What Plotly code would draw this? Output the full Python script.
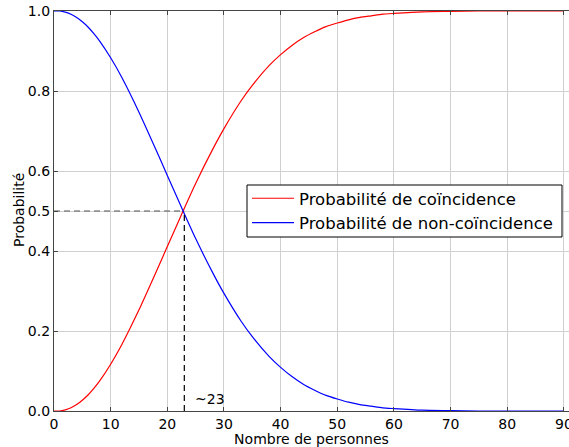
import plotly.graph_objects as go

# Number of persons
persons = [0, 1, 2, 3, 4, 5, 6, 7, 8, 10, 12, 15, 18, 20, 23, 25, 28, 30, 33, 35, 38, 40,
           42, 44, 46, 48, 50, 52, 54, 56, 58, 60, 65, 70, 75, 80, 85, 90]
# Probability of coincidence
p_coincidence = [0.0, 0.0, 0.003, 0.008, 0.016, 0.027, 0.040, 0.056, 0.074, 0.117, 0.167,
                 0.253, 0.347, 0.411, 0.507, 0.569, 0.654, 0.706, 0.775, 0.814, 0.864, 0.891,
                 0.914, 0.933, 0.948, 0.961, 0.970, 0.978, 0.984, 0.988, 0.992, 0.994,
                 0.998, 0.999, 1.0, 1.0, 1.0, 1.0]
# Probability of non-coincidence
p_non_coincidence = [1.0, 1.0, 0.997, 0.992, 0.984, 0.973, 0.960, 0.944, 0.926, 0.883, 0.833,
                     0.747, 0.653, 0.589, 0.493, 0.431, 0.346, 0.294, 0.225, 0.186, 0.136, 0.109,
                     0.086, 0.067, 0.052, 0.039, 0.030, 0.022, 0.016, 0.012, 0.008, 0.006,
                     0.002, 0.001, 0.0, 0.0, 0.0, 0.0]

x_ticks = [0, 10, 20, 30, 40, 50, 60, 70, 80, 90]
y_ticks = [0.0, 0.2, 0.4, 0.5, 0.6, 0.8, 1.0]
y_ticktext = ["0.0", "0.2", "0.4", "0.5", "0.6", "0.8", "1.0"]
threshold_persons = 23
threshold_prob = 0.5

font_family = "DejaVu Sans, sans-serif"
W, H = 569, 447
ML, MR, MT, MB = 54, 0, 11, 36
PW, PH = W - ML - MR, H - MT - MB


def px_x(p):
    return (p - ML) / PW


def px_y(p):
    return (H - MB - p) / PH


fig = go.Figure()
fig.add_trace(go.Scatter(x=persons, y=p_coincidence, mode="lines",
                         line=dict(color="#ff0000", width=1.2, shape="spline", smoothing=0.6),
                         name="Probabilité de coïncidence"))
fig.add_trace(go.Scatter(x=persons, y=p_non_coincidence, mode="lines",
                         line=dict(color="#0000ff", width=1.2, shape="spline", smoothing=0.6),
                         name="Probabilité de non-coïncidence"))

# Dashed guide lines
fig.add_trace(go.Scatter(x=[0, threshold_persons], y=[threshold_prob, threshold_prob], mode="lines",
                         line=dict(color="#555555", width=1.2, dash="6px,4px"),
                         showlegend=False, hoverinfo="skip"))
fig.add_trace(go.Scatter(x=[threshold_persons, threshold_persons], y=[0, threshold_prob], mode="lines",
                         line=dict(color="#000000", width=1.2, dash="6px,4px"),
                         showlegend=False, hoverinfo="skip"))

fig.add_annotation(x=24.6, y=0.03, text="~23", showarrow=False, xanchor="left", yanchor="middle",
                   font=dict(size=14, color="#000000", family=font_family))

# Y axis title
fig.add_annotation(xref="paper", yref="paper", x=px_x(19), y=px_y(210), text="Probabilité",
                   textangle=-90, showarrow=False, xanchor="center", yanchor="middle",
                   font=dict(size=14, color="#000000", family=font_family))

# Legend frame (white box with black border)
fig.add_shape(type="rect", xref="paper", yref="paper",
              x0=px_x(247), x1=px_x(562), y0=px_y(237), y1=px_y(185),
              line=dict(color="#000000", width=1), fillcolor="white", layer="above")

fig.update_layout(
    width=W, height=H,
    margin=dict(l=ML, r=MR, t=MT, b=MB),
    paper_bgcolor="white", plot_bgcolor="white",
    font=dict(family=font_family, size=14, color="#000000"),
    legend=dict(x=px_x(247), y=px_y(181), xanchor="left", yanchor="top",
                borderwidth=0, bgcolor="rgba(0,0,0,0)", itemwidth=42,
                font=dict(size=16.5, family=font_family)),
    showlegend=True,
)
fig.update_xaxes(range=[0, 90.9], tickvals=x_ticks, ticks="inside", ticklen=4,
                 tickcolor="#444444", showline=True, linecolor="#444444", linewidth=1.2,
                 mirror="ticks", showgrid=True, gridcolor="#d0d0d0", gridwidth=1,
                 zeroline=False, automargin=False, ticklabeloverflow="allow",
                 title=dict(text="Nombre de personnes", standoff=2, font=dict(size=14)),
                 tickfont=dict(size=14))
fig.update_yaxes(range=[0, 1.0], tickvals=y_ticks, ticktext=y_ticktext, ticks="inside", ticklen=4,
                 tickcolor="#444444", showline=True, linecolor="#444444", linewidth=1.2,
                 showgrid=True, gridcolor="#d0d0d0", gridwidth=1, zeroline=False, automargin=False,
                 tickfont=dict(size=14))

fig.write_html("out.html", config={"displayModeBar": False},
               post_script="document.body.style.margin='0';document.body.style.overflow='hidden';")
